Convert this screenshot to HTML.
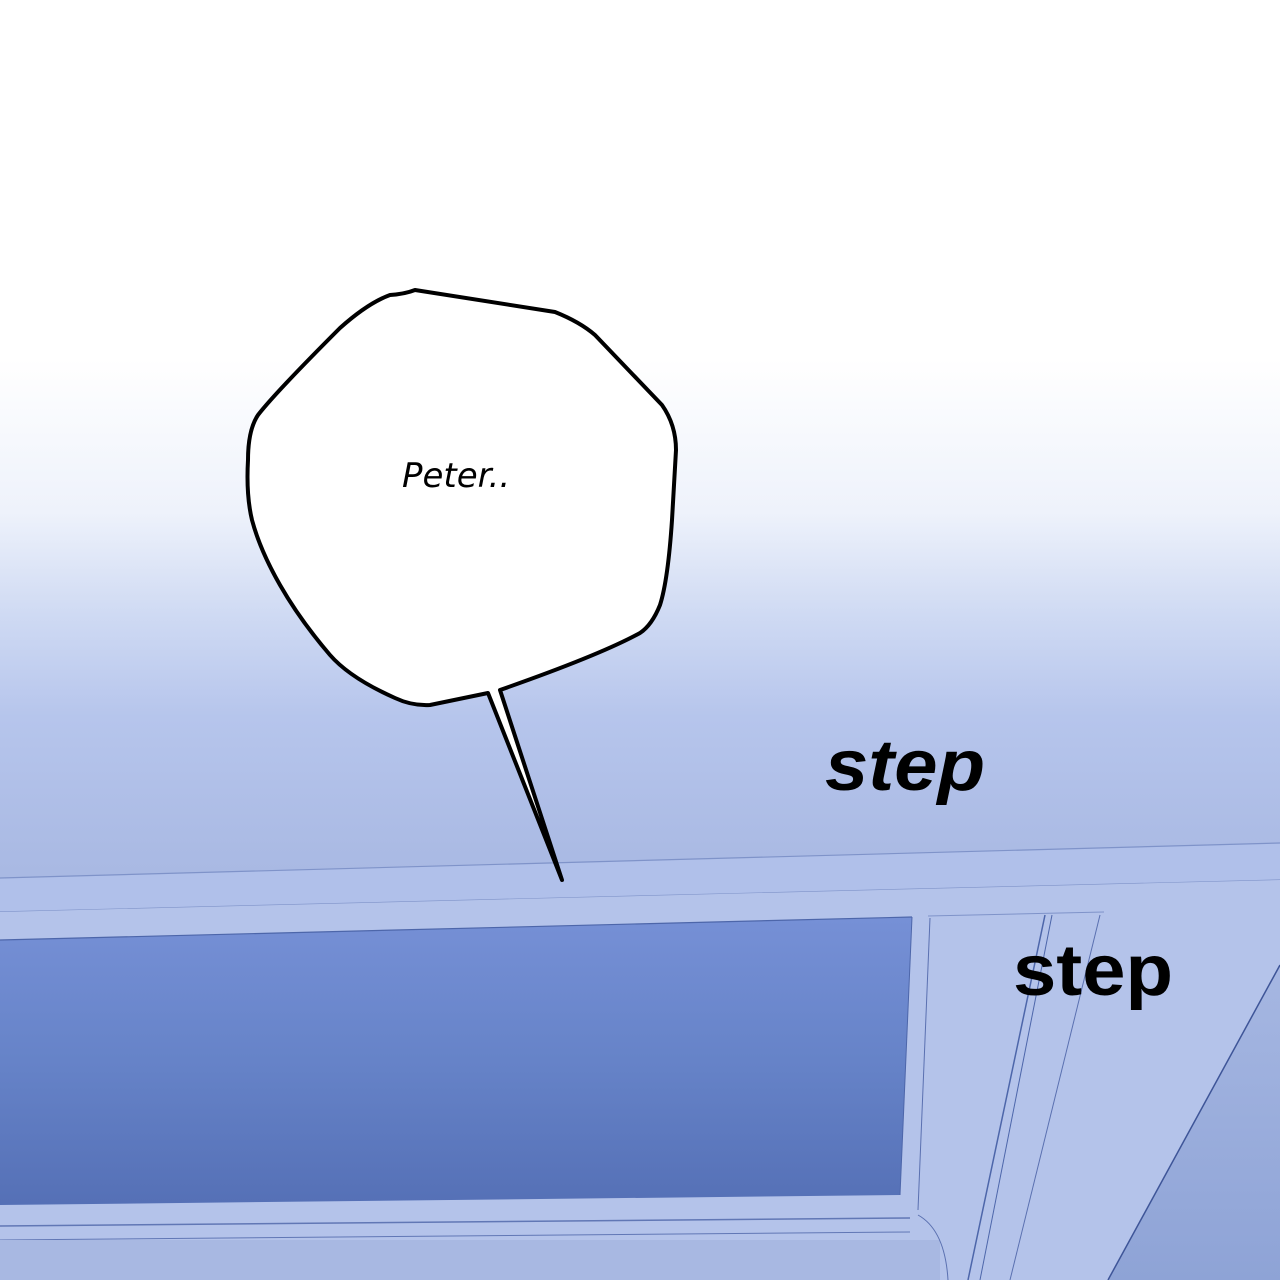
<!DOCTYPE html>
<html><head><meta charset="utf-8"><style>
html,body{margin:0;padding:0;width:1280px;height:1280px;overflow:hidden;background:#fff}
svg{display:block}
</style></head><body>
<svg width="1280" height="1280" viewBox="0 0 1280 1280" xmlns="http://www.w3.org/2000/svg">
<defs>
<linearGradient id="bg" x1="0" y1="0" x2="0" y2="1">
<stop offset="0" stop-color="#ffffff"/>
<stop offset="0.28" stop-color="#ffffff"/>
<stop offset="0.40" stop-color="#eef2fb"/>
<stop offset="0.48" stop-color="#cfdaf3"/>
<stop offset="0.56" stop-color="#b6c5ec"/>
<stop offset="0.68" stop-color="#a9b9e3"/>
<stop offset="1" stop-color="#a4b4e0"/>
</linearGradient>
<linearGradient id="win" x1="0" y1="0" x2="0" y2="1">
<stop offset="0" stop-color="#7690d6"/>
<stop offset="0.5" stop-color="#6683c8"/>
<stop offset="1" stop-color="#5570b6"/>
</linearGradient>
<linearGradient id="rt" x1="0" y1="0" x2="0" y2="1">
<stop offset="0" stop-color="#a6b7e2"/>
<stop offset="1" stop-color="#8ea3d6"/>
</linearGradient>
</defs>
<rect width="1280" height="1280" fill="url(#bg)"/>
<!-- beam band -->
<polygon points="0,878 1280,843 1280,880 0,912" fill="#b0c0ea"/>
<line x1="0" y1="878" x2="1280" y2="843" stroke="#7f93c9" stroke-width="1.2"/>
<line x1="0" y1="912" x2="1280" y2="880" stroke="#7f93c9" stroke-width="1.2"/>
<!-- frame area -->
<polygon points="0,912 1280,880 1280,1280 0,1280" fill="#b4c3ea"/>
<polygon points="0,940 912,917 900,1195 0,1205" fill="url(#win)"/>
<line x1="0" y1="940" x2="912" y2="917" stroke="#4d66aa" stroke-width="1.2"/>
<line x1="912" y1="917" x2="900" y2="1195" stroke="#4d66aa" stroke-width="1"/>
<line x1="0" y1="1226" x2="910" y2="1218" stroke="#6177b5" stroke-width="1.5"/>
<line x1="0" y1="1240" x2="910" y2="1232" stroke="#6177b5" stroke-width="1"/>
<rect x="0" y="1240" width="940" height="40" fill="#a8b8e2"/>
<!-- right structures -->
<line x1="928" y1="916" x2="1104" y2="912" stroke="#7f93c9" stroke-width="1"/>
<line x1="930" y1="918" x2="918" y2="1210" stroke="#5a70b0" stroke-width="1"/>
<path d="M918,1215 Q945,1230 948,1280" fill="none" stroke="#5a70b0" stroke-width="1"/>
<line x1="1045" y1="915" x2="968" y2="1280" stroke="#4d66aa" stroke-width="1.5"/>
<line x1="1052" y1="915" x2="980" y2="1280" stroke="#4d66aa" stroke-width="1"/>
<line x1="1100" y1="915" x2="1010" y2="1280" stroke="#5a70b0" stroke-width="1"/>
<polygon points="1280,965 1280,1280 1108,1280" fill="url(#rt)"/>
<line x1="1280" y1="965" x2="1108" y2="1280" stroke="#3e5598" stroke-width="1.5"/>
<!-- speech bubble -->
<path d="M415,290 L555,312 Q580,322 595,335 L662,405 Q676,425 676,450 L672,520 Q668,580 660,605 Q652,625 640,633 Q600,655 500,690 L562,880 L488,693 L430,705 Q412,706 395,698 Q350,678 330,655 Q300,620 280,585 Q260,550 252,520 Q246,495 248,460 Q248,430 258,415 Q275,393 340,328 Q368,303 390,295 Q405,294 415,290 Z" fill="#fff" stroke="#000" stroke-width="4" stroke-linejoin="round"/>
<text x="402" y="487" font-family="'DejaVu Sans','Liberation Sans',sans-serif" font-style="italic" font-size="34" fill="#000">Peter..</text>
<text x="825" y="790" font-family="'Liberation Sans',sans-serif" font-weight="bold" font-style="italic" font-size="72" fill="#000" textLength="160" lengthAdjust="spacingAndGlyphs">step</text>
<text x="1013" y="995" font-family="'Liberation Sans',sans-serif" font-weight="bold" font-size="72" fill="#000" textLength="160" lengthAdjust="spacingAndGlyphs">step</text>
</svg>
</body></html>
